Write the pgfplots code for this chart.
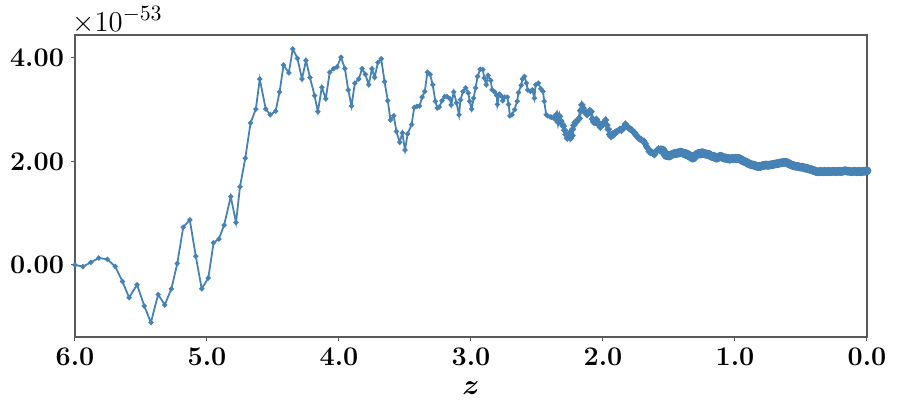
\documentclass[border=0pt]{standalone}
\usepackage{pgfplots}
\usepackage{bm}
\pgfplotsset{compat=1.18}
\definecolor{sblue}{RGB}{70,130,180}
\newcommand{\tfont}{\fontsize{13.5}{16}\selectfont}
\newcommand{\sfont}{\fontsize{15.5}{18}\selectfont}
\begin{document}
\begin{tikzpicture}
\useasboundingbox (-37.5bp,-38.5bp) rectangle (411bp,168.5bp);
\begin{axis}[
  name=ax,
  at={(0,0)}, anchor=south west,
  scale only axis, width=396bp, height=151bp,
  x dir=reverse, xmin=0, xmax=6, ymin=-1.39, ymax=4.44,
  xtick={0,1,2,3,4,5,6}, ytick={0,2,4},
  xticklabel={\pgfmathprintnumber[assume math mode=true,fixed,fixed zerofill,precision=1]{\tick}},
  yticklabel={\pgfmathprintnumber[assume math mode=true,fixed,fixed zerofill,precision=2]{\tick}},
  ticklabel style={font=\tfont\bfseries},
  tick align=outside, xtick pos=left, ytick pos=left,
  major tick length=2bp,
  tick style={black!65, line width=0.5bp},
  axis line style={black!65, line width=0.6bp},
  xlabel={$\bm{z}$},
  xlabel style={font=\tfont, yshift=-1bp},
]
\addplot[color=sblue, line width=0.9bp, mark=*, mark size=0.8bp, mark options={fill=sblue, draw=sblue}] coordinates {
(6.00,0.00) (5.94,-0.03) (5.88,0.05) (5.82,0.135) (5.755,0.11) (5.695,-0.03)
(5.64,-0.32) (5.59,-0.63) (5.53,-0.38) (5.475,-0.79) (5.425,-1.11) (5.37,-0.57)
(5.32,-0.77) (5.27,-0.46) (5.225,0.03) (5.18,0.73) (5.13,0.87) (5.085,0.17)
(5.04,-0.46) (4.99,-0.25) (4.95,0.43) (4.91,0.50) (4.87,0.77) (4.82,1.32)
(4.78,0.82) (4.75,1.51) (4.71,2.06) (4.67,2.74) (4.63,3.01) (4.60,3.59)
(4.555,3.01) (4.52,2.90) (4.48,2.97) (4.45,3.34) (4.42,3.86) (4.38,3.71)
(4.35,4.17) (4.315,3.99) (4.28,3.59) (4.25,3.95) (4.22,3.62) (4.185,3.27)
(4.16,2.96) (4.13,3.43) (4.10,3.21) (4.07,3.72) (4.04,3.79) (4.015,3.82)
(3.985,4.01) (3.955,3.79) (3.93,3.38) (3.905,3.07) (3.88,3.51) (3.85,3.59)
(3.825,3.79) (3.80,3.68) (3.775,3.48) (3.75,3.79) (3.73,3.62) (3.705,3.91)
(3.68,3.98) (3.655,3.54) (3.63,3.17) (3.61,2.80) (3.585,2.88) (3.565,2.58)
(3.54,2.37) (3.52,2.55) (3.50,2.22) (3.48,2.53) (3.45,2.71) (3.43,3.04)
(3.41,3.06) (3.39,3.07) (3.37,3.24) (3.35,3.35) (3.33,3.72) (3.31,3.68)
(3.29,3.48) (3.27,3.16) (3.255,3.03) (3.24,3.05) (3.22,3.17) (3.20,3.25)
(3.18,3.25) (3.16,3.21) (3.15,3.09) (3.13,3.34) (3.11,3.13) (3.09,2.90)
(3.08,3.19) (3.06,3.35) (3.04,3.42) (3.02,3.32) (3.01,3.16) (2.995,3.01)
(2.98,3.22) (2.965,3.42) (2.95,3.64) (2.93,3.78) (2.91,3.77) (2.90,3.61)
(2.885,3.48) (2.87,3.66) (2.85,3.56) (2.84,3.38) (2.82,3.34) (2.805,3.27)
(2.80,3.10) (2.785,3.30) (2.77,3.26) (2.76,3.17) (2.745,3.24) (2.725,3.24)
(2.715,3.10) (2.705,2.88) (2.69,2.90) (2.67,3.00) (2.65,3.16) (2.64,3.33)
(2.62,3.47) (2.61,3.59) (2.595,3.64) (2.58,3.51) (2.57,3.38) (2.55,3.35)
(2.535,3.38) (2.52,3.22) (2.51,3.48) (2.49,3.51) (2.47,3.40) (2.455,3.35)
(2.445,3.16) (2.43,2.90) (2.42,2.88) (2.40,2.86) (2.39,2.85) (2.375,2.84)
(2.36,2.83)
};
\addplot[color=sblue, line width=1.5bp, mark=*, mark size=0.85bp, mark options={fill=sblue, draw=sblue}] coordinates {
(2.36,2.83) (2.35,2.90) (2.34,2.76) (2.33,2.87) (2.32,2.78) (2.31,2.72)
(2.30,2.68) (2.29,2.60) (2.28,2.52) (2.27,2.45) (2.26,2.51) (2.25,2.55)
(2.245,2.45) (2.235,2.50) (2.23,2.62) (2.22,2.70) (2.21,2.75) (2.20,2.77)
(2.19,2.80) (2.18,2.83) (2.17,2.98) (2.16,3.09) (2.15,3.03) (2.14,2.97)
(2.13,2.93) (2.12,2.90) (2.11,2.95) (2.10,2.98) (2.09,2.96) (2.08,2.82)
(2.07,2.76) (2.06,2.75) (2.05,2.81) (2.04,2.76) (2.03,2.70) (2.02,2.66)
(2.01,2.71) (2.00,2.73) (1.99,2.74) (1.98,2.80) (1.97,2.70) (1.96,2.62)
(1.95,2.52) (1.94,2.48) (1.93,2.53) (1.92,2.51) (1.91,2.55) (1.90,2.57)
(1.89,2.58) (1.88,2.60) (1.87,2.62) (1.86,2.60) (1.85,2.64) (1.84,2.65)
(1.83,2.72) (1.82,2.68) (1.81,2.66) (1.80,2.63) (1.79,2.62) (1.78,2.60)
(1.77,2.57) (1.76,2.55) (1.75,2.51) (1.74,2.48) (1.73,2.45) (1.72,2.43)
(1.71,2.42) (1.70,2.40) (1.69,2.39) (1.68,2.34) (1.67,2.29) (1.66,2.25)
(1.65,2.19) (1.64,2.17) (1.63,2.18) (1.62,2.15) (1.61,2.13) (1.60,2.18)
(1.59,2.22) (1.58,2.24) (1.57,2.21) (1.56,2.24) (1.55,2.22)
};
\addplot[color=sblue, line width=2.2bp, mark=*, mark size=1bp, mark options={fill=sblue, draw=sblue}] coordinates {
(1.55,2.22) (1.54,2.19)
(1.53,2.14) (1.52,2.11) (1.51,2.12) (1.50,2.10) (1.49,2.12) (1.48,2.13)
(1.47,2.14) (1.46,2.15) (1.45,2.16) (1.44,2.15) (1.43,2.17) (1.42,2.16)
(1.41,2.18) (1.40,2.17) (1.39,2.15) (1.38,2.16) (1.37,2.13) (1.36,2.14)
(1.35,2.12) (1.34,2.09) (1.33,2.10) (1.32,2.06) (1.31,2.08) (1.30,2.11)
(1.29,2.13) (1.28,2.15) (1.27,2.16) (1.26,2.14) (1.25,2.17) (1.24,2.16)
(1.23,2.14) (1.22,2.15) (1.21,2.13) (1.20,2.14) (1.19,2.12) (1.18,2.10)
(1.17,2.09) (1.16,2.10) (1.15,2.08) (1.14,2.06) (1.13,2.07) (1.12,2.09)
(1.11,2.10) (1.10,2.09) (1.09,2.07) (1.08,2.06) (1.07,2.07) (1.06,2.05)
(1.05,2.06) (1.04,2.04) (1.03,2.05) (1.02,2.06) (1.01,2.05) (1.00,2.06)
(0.99,2.05) (0.98,2.06) (0.97,2.06) (0.96,2.04) (0.95,2.03) (0.94,2.01)
(0.93,2.00) (0.92,1.99) (0.91,1.98) (0.90,1.96) (0.89,1.95) (0.88,1.94)
(0.87,1.93) (0.86,1.93) (0.85,1.92) (0.84,1.91) (0.83,1.90) (0.82,1.90)
(0.81,1.90) (0.80,1.91) (0.79,1.92) (0.78,1.92) (0.77,1.93) (0.76,1.93)
(0.75,1.92) (0.74,1.93) (0.73,1.93) (0.72,1.94) (0.71,1.94) (0.70,1.95)
(0.69,1.95) (0.68,1.96) (0.67,1.96) (0.66,1.97) (0.65,1.97) (0.64,1.98)
(0.63,1.98) (0.62,1.98) (0.61,1.98) (0.60,1.97) (0.59,1.95) (0.58,1.94)
(0.57,1.93) (0.56,1.92) (0.55,1.91) (0.54,1.91) (0.53,1.90) (0.52,1.90)
(0.51,1.89) (0.50,1.89) (0.49,1.89) (0.48,1.88) (0.47,1.87) (0.46,1.87)
(0.45,1.86) (0.44,1.85) (0.43,1.85) (0.42,1.84) (0.41,1.83) (0.40,1.82)
(0.39,1.81) (0.38,1.80) (0.37,1.80) (0.36,1.80) (0.35,1.81) (0.34,1.80)
(0.33,1.80) (0.32,1.81) (0.31,1.80) (0.30,1.80) (0.29,1.81) (0.28,1.80)
(0.27,1.80) (0.26,1.81) (0.25,1.81) (0.24,1.80) (0.23,1.80) (0.22,1.81)
(0.21,1.81) (0.20,1.80) (0.19,1.81) (0.18,1.81) (0.17,1.82) (0.16,1.82)
(0.15,1.81) (0.14,1.81) (0.13,1.81) (0.12,1.80) (0.11,1.80) (0.10,1.81)
(0.09,1.81) (0.08,1.80) (0.07,1.80) (0.06,1.81) (0.05,1.80) (0.04,1.80)
(0.03,1.81) (0.02,1.81) (0.01,1.81) (0.00,1.82)
};
\end{axis}
\node[anchor=south west, inner sep=0pt, font=\sfont] at ([xshift=-1.5bp,yshift=0.5bp]ax.north west) {$\times10^{-53}$};
\end{tikzpicture}
\end{document}
